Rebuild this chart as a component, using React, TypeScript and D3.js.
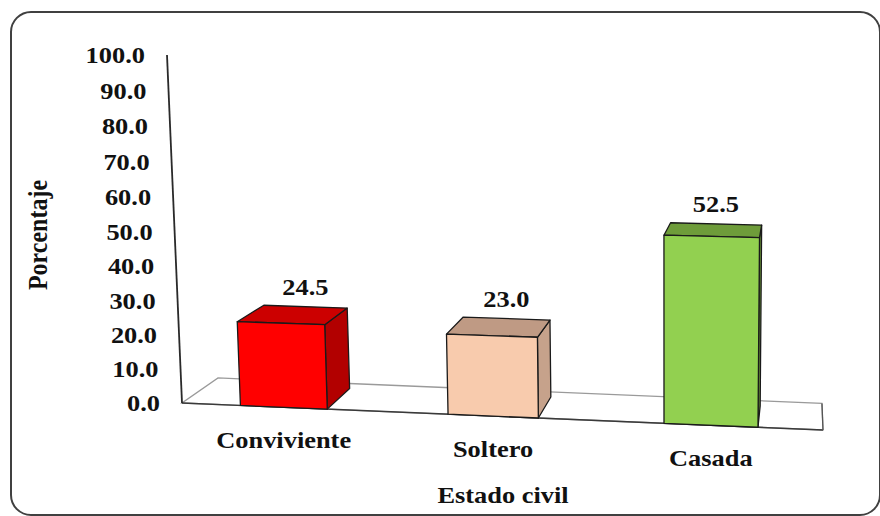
import React from "react";
import * as d3 from "d3";

// ---- Data ----
const categories: string[] = ["Conviviente", "Soltero", "Casada"];
const values: number[] = [24.5, 23.0, 52.5];
const yTicks: number[] = [0, 10, 20, 30, 40, 50, 60, 70, 80, 90, 100];
const frontColors: string[] = ["#FF0000", "#F8CBAD", "#92D050"];
const topColors: string[] = ["#CC0000", "#BF9A84", "#6E9C3A"];
const sideColors: string[] = ["#B20000", "#C6A28B", "#6A9638"];
const yTitle = "Porcentaje";
const xTitle = "Estado civil";

// ---- Projection (3D-like view) ----
const W = 880;
const H = 516;
const ORIGIN: [number, number] = [182, 403];
const X_END: [number, number] = [823, 430];
const Y_TOP: [number, number] = [167, 55];
const GX = -0.0575; // perspective along category axis
const GY = -0.03; // perspective along value axis
const VP: [number, number] = [805, -30]; // depth vanishing point
const FLOOR_DEPTH = 0.0578;
const BAR_DEPTH = 0.81;

const xScale = d3
  .scaleBand<string>()
  .domain(categories)
  .range([0, 1])
  .paddingInner(0.577)
  .paddingOuter(0.2885);
const yScale = d3.scaleLinear().domain([0, 100]).range([0, 1]);
const zScale = d3.scaleLinear().domain([0, 1]).range([0, FLOOR_DEPTH]);

function front(u: number, t: number): [number, number] {
  const px =
    ORIGIN[0] +
    u * (X_END[0] * (1 + GX) - ORIGIN[0]) +
    t * (Y_TOP[0] * (1 + GY) - ORIGIN[0]);
  const py =
    ORIGIN[1] +
    u * (X_END[1] * (1 + GX) - ORIGIN[1]) +
    t * (Y_TOP[1] * (1 + GY) - ORIGIN[1]);
  const w = 1 + GX * u + GY * t;
  return [px / w, py / w];
}

function project(u: number, v: number, z: number): [number, number] {
  const [fx, fy] = front(u, yScale(v));
  const s = zScale(z);
  return [fx + s * (VP[0] - fx), fy + s * (VP[1] - fy)];
}

const poly = (pts: [number, number][]) =>
  pts.map((p) => `${p[0].toFixed(2)},${p[1].toFixed(2)}`).join(" ");

const FONT = "'Liberation Serif', 'Times New Roman', Times, serif";
const SX = 1.1;

function Label({
  x,
  y,
  text,
  anchor = "middle",
  rotate = 0,
}: {
  x: number;
  y: number;
  text: string;
  anchor?: string;
  rotate?: number;
}) {
  return (
    <text
      transform={`translate(${x.toFixed(2)},${y.toFixed(2)}) scale(${SX},1)${
        rotate ? ` rotate(${rotate})` : ""
      }`}
      textAnchor={anchor}
      fontFamily={FONT}
      fontWeight="bold"
      fontSize={24}
      fill="#111"
    >
      {text}
    </text>
  );
}

export default function App() {
  const floor = [
    project(0, 0, 0),
    project(1, 0, 0),
    project(1, 0, 1),
    project(0, 0, 1),
  ];
  const axisBottom = project(0, 0, 0);
  const axisTop = project(0, 100, 0);

  return (
    <div style={{ position: "absolute", left: 0, top: 0 }}>
      <svg width={W} height={H} viewBox={`0 0 ${W} ${H}`}>
        <rect x={0} y={0} width={W} height={H} fill="#fff" />
        <rect
          x={11}
          y={12}
          width={869}
          height={503}
          rx={20}
          ry={20}
          fill="#fff"
          stroke="#404040"
          strokeWidth={2}
        />

        {/* floor */}
        <polygon points={poly(floor)} fill="#fff" stroke="#9a9a9a" strokeWidth={1.3} />
        <line
          x1={floor[0][0]}
          y1={floor[0][1]}
          x2={floor[1][0]}
          y2={floor[1][1]}
          stroke="#3a3a3a"
          strokeWidth={1.4}
        />
        <line
          x1={floor[1][0]}
          y1={floor[1][1]}
          x2={floor[2][0]}
          y2={floor[2][1]}
          stroke="#555"
          strokeWidth={1.3}
        />

        {/* value axis */}
        <line
          x1={axisBottom[0]}
          y1={axisBottom[1]}
          x2={axisTop[0]}
          y2={axisTop[1]}
          stroke="#2a2a2a"
          strokeWidth={1.8}
        />
        {yTicks.map((t) => {
          const p = project(0, t, 0);
          return (
            <Label key={t} x={p[0] - 22} y={p[1] + 8} text={t.toFixed(1)} anchor="end" />
          );
        })}

        {/* bars */}
        {categories.map((c, i) => {
          const x0 = xScale(c)!;
          const x1 = x0 + xScale.bandwidth();
          const v = values[i];
          const side = [
            project(x1, 0, 0),
            project(x1, v, 0),
            project(x1, v, BAR_DEPTH),
            project(x1, 0, BAR_DEPTH),
          ];
          const top = [
            project(x0, v, 0),
            project(x1, v, 0),
            project(x1, v, BAR_DEPTH),
            project(x0, v, BAR_DEPTH),
          ];
          const fr = [
            project(x0, 0, 0),
            project(x1, 0, 0),
            project(x1, v, 0),
            project(x0, v, 0),
          ];
          return (
            <g key={c} stroke="#1a1a1a" strokeWidth={1.3} strokeLinejoin="round">
              <polygon points={poly(side)} fill={sideColors[i]} />
              <polygon points={poly(top)} fill={topColors[i]} />
              <polygon points={poly(fr)} fill={frontColors[i]} />
            </g>
          );
        })}

        {/* value labels */}
        {categories.map((c, i) => {
          const xc = xScale(c)! + xScale.bandwidth() / 2;
          const p = project(xc, values[i], BAR_DEPTH);
          return <Label key={c} x={p[0]} y={p[1] - 12} text={values[i].toFixed(1)} />;
        })}

        {/* category labels */}
        {categories.map((c) => {
          const xc = xScale(c)! + xScale.bandwidth() / 2;
          const p = project(xc, 0, 0);
          return <Label key={c} x={p[0]} y={p[1] + 41} text={c} />;
        })}

        {/* axis titles */}
        <Label x={47} y={235} text={yTitle} rotate={-90} />
        <Label x={503} y={503} text={xTitle} />
      </svg>
    </div>
  );
}
